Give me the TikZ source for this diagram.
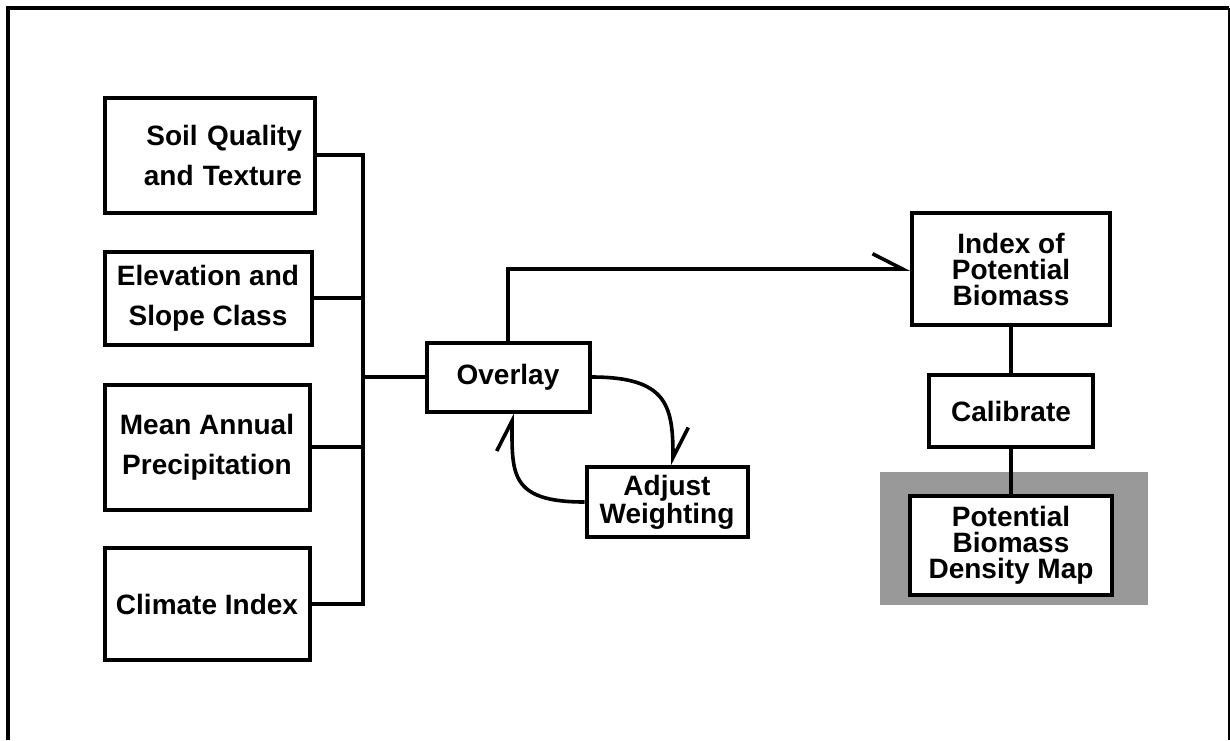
\documentclass[tikz,border=0pt]{standalone}
\usepackage{fontspec}
\setmainfont{Liberation Sans}
\usetikzlibrary{arrows.meta}

\begin{document}
\begin{tikzpicture}[x=0.5pt,y=-0.5pt,
    box/.style={draw,line width=2pt,fill=white,inner sep=0pt,align=center,
      font=\fontsize{14}{13}\selectfont\bfseries},
    tall/.style={font=\fontsize{14}{20}\selectfont\bfseries},
    conn/.style={line width=1.8pt},
    barb/.style={-{Straight Barb[left,length=15pt,angle'=54]}}]
  \useasboundingbox (0,0) rectangle (1230,740);
  \draw[line width=2pt] (8,740) -- (8,8) -- (1229,8);
  \draw[line width=1pt] (1229,8) -- (1229,740);

  \node[box,tall,text width=92pt,align=right,minimum width=105pt,minimum height=57.5pt] (soil) at (210,155) {Soil Quality\\and Texture};
  \node[box,tall,minimum width=103.5pt,minimum height=46.5pt] (elev) at (208,298) {Elevation and\\Slope Class};
  \node[box,tall,minimum width=102.5pt,minimum height=62.5pt] (mean) at (207,447) {Mean Annual\\Precipitation};
  \node[box,tall,minimum width=102.5pt,minimum height=56pt] (clim) at (207,604) {Climate Index};

  \node[box,minimum width=81.5pt,minimum height=34.5pt] (overlay) at (508,377) {Overlay};
  \node[box,minimum width=80.5pt,minimum height=35pt] (adjust) at (667,502) {Adjust\\Weighting};

  \node[box,minimum width=99pt,minimum height=56pt] (index) at (1011,269) {Index of\\Potential\\Biomass};
  \node[box,minimum width=82pt,minimum height=36pt] (calib) at (1011,411) {Calibrate};
  \fill[black!40] (880,472) rectangle (1148,605);
  \node[box,minimum width=101pt,minimum height=49.5pt] (dens) at (1011,545) {Potential\\Biomass\\Density Map};

  \coordinate (bus) at (363,377);
  \draw[conn] (soil.east) -| (bus) |- (clim.east);
  \draw[conn] (elev.east) -- (elev.east -| bus);
  \draw[conn] (mean.east) -- (mean.east -| bus);
  \draw[conn] (bus) -- (overlay.west);

  \draw[conn,barb] (overlay.north) |- (index.west);
  \draw[conn,barb] (overlay.east) .. controls +(75,0) and +(0,-60) .. ([xshift=3pt]adjust.north);
  \draw[conn,barb] (adjust.west) .. controls +(-75,0) and +(0,60) .. ([xshift=2pt]overlay.south);
  \draw[conn] (index) -- (calib);
  \draw[conn] (calib) -- (dens);
\end{tikzpicture}
\end{document}
